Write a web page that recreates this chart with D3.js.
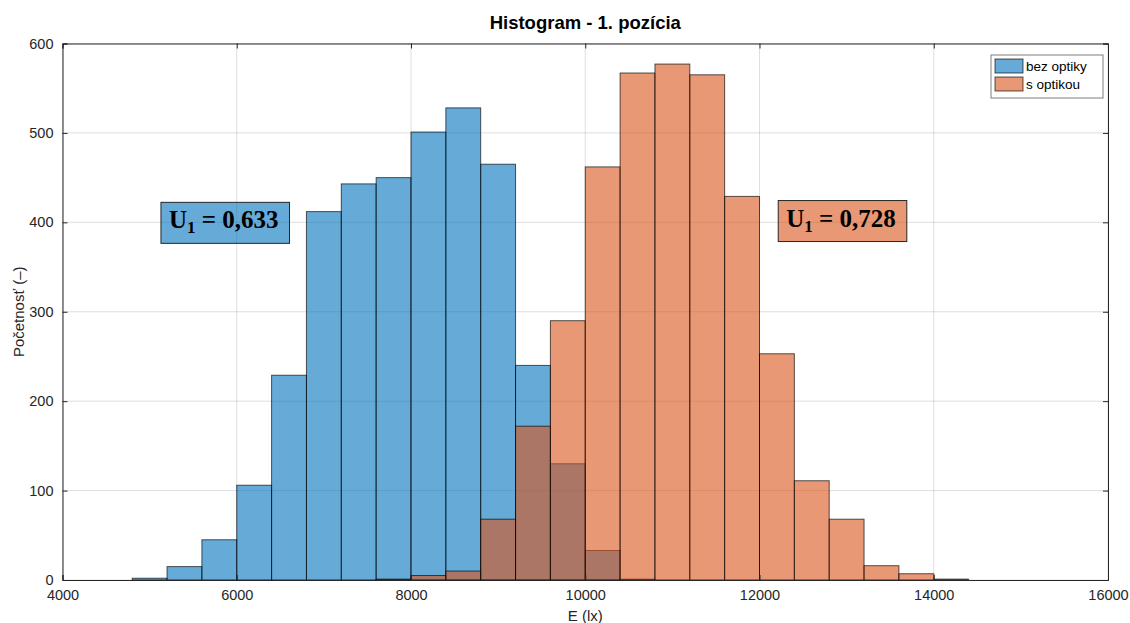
<!DOCTYPE html>
<html>
<head>
<meta charset="utf-8">
<script src="https://cdnjs.cloudflare.com/ajax/libs/d3/7.8.5/d3.min.js"></script>
<style>
  body { margin: 0; background: #fff; }
  text { font-family: "Liberation Sans", Arial, sans-serif; }
</style>
</head>
<body>
<div id="chart"></div>
<script>
// bin edges (lx), width 400
var binStart = 4800, binWidth = 400;
// counts per bin, starting at binStart
var bezOptiky = [2, 15, 45, 106, 229, 412, 443, 450, 501, 528, 465, 240, 130, 33, 1];
var sOptikouStart = 7600;
var sOptikou = [1, 5, 10, 68, 172, 290, 462, 567, 577, 565, 429, 253, 111, 68, 16, 7, 1];
var seriesNames = ["bez optiky", "s optikou"];
var xTicks = [4000, 6000, 8000, 10000, 12000, 14000, 16000];
var yTicks = [0, 100, 200, 300, 400, 500, 600];
var notes = [
    { x: 5130, y: 400, value: "0,633", series: 0 },
    { x: 12215, y: 402, value: "0,728", series: 1 }
];

var W = 1130, H = 623,
    margin = { left: 62.5, top: 43.5, right: 22, bottom: 43 },
    colors = ["#0072bd", "#d95319"];

var svg = d3.select("#chart").append("svg")
    .attr("width", W)
    .attr("height", H);

var x = d3.scaleLinear().domain([4000, 16000]).range([margin.left, W - margin.right]);
var y = d3.scaleLinear().domain([0, 600]).range([H - margin.bottom, margin.top]);

var toBins = function (start, counts) {
    return counts.map(function (c, i) {
        return { x0: start + i * binWidth, x1: start + (i + 1) * binWidth, n: c };
    });
};

// grid
var grid = svg.append("g");
grid.selectAll("line.gx").data(xTicks).enter().append("line")
    .attr("x1", function (d) { return x(d); }).attr("x2", function (d) { return x(d); })
    .attr("y1", y(0)).attr("y2", y(600))
    .attr("stroke", "#262626").attr("stroke-opacity", 0.15);
grid.selectAll("line.gy").data(yTicks).enter().append("line")
    .attr("y1", function (d) { return y(d); }).attr("y2", function (d) { return y(d); })
    .attr("x1", x(4000)).attr("x2", x(16000))
    .attr("stroke", "#262626").attr("stroke-opacity", 0.15);

// bars
[toBins(binStart, bezOptiky), toBins(sOptikouStart, sOptikou)].forEach(function (bins, k) {
    svg.append("g").selectAll("rect").data(bins).enter().append("rect")
        .attr("x", function (d) { return x(d.x0); })
        .attr("width", function (d) { return x(d.x1) - x(d.x0); })
        .attr("y", function (d) { return y(d.n); })
        .attr("height", function (d) { return y(0) - y(d.n); })
        .attr("fill", colors[k]).attr("fill-opacity", 0.6)
        .attr("stroke", "#000").attr("stroke-opacity", 0.65).attr("stroke-width", 1);
});

// axes
svg.append("g").attr("transform", "translate(0," + y(0) + ")")
    .call(d3.axisBottom(x).tickValues(xTicks).tickSize(-5).tickPadding(10).tickFormat(d3.format("d")));
svg.append("g").attr("transform", "translate(" + x(4000) + ",0)")
    .call(d3.axisLeft(y).tickValues(yTicks).tickSize(-5).tickPadding(9));
svg.append("g").attr("transform", "translate(0," + y(600) + ")")
    .call(d3.axisTop(x).tickValues(xTicks).tickSize(-5).tickFormat(""));
svg.append("g").attr("transform", "translate(" + x(16000) + ",0)")
    .call(d3.axisRight(y).tickValues(yTicks).tickSize(-5).tickFormat(""));
svg.selectAll(".domain, .tick line").attr("stroke", "#262626");
svg.selectAll(".tick text").attr("fill", "#262626").style("font-size", "14.5px")
    .style("font-family", "'Liberation Sans', Arial, sans-serif");

// titles
svg.append("text").attr("x", (x(4000) + x(16000)) / 2).attr("y", 29)
    .attr("text-anchor", "middle").style("font-size", "18.5px").style("font-weight", "bold")
    .attr("fill", "#000").text("Histogram - 1. pozícia");
svg.append("text").attr("x", (x(4000) + x(16000)) / 2).attr("y", 621)
    .attr("text-anchor", "middle").style("font-size", "15px").attr("fill", "#262626").text("E (lx)");
svg.append("text").attr("transform", "translate(24," + (y(300)) + ") rotate(-90)")
    .attr("text-anchor", "middle").style("font-size", "15px").attr("fill", "#262626").text("Početnosť (–)");

// legend
var lg = svg.append("g").attr("transform", "translate(991,55)");
lg.append("rect").attr("width", 112).attr("height", 43).attr("fill", "#fff").attr("stroke", "#262626").attr("stroke-opacity", 0.6);
seriesNames.forEach(function (name, i) {
    lg.append("rect").attr("x", 4).attr("y", 4 + i * 18).attr("width", 28).attr("height", 14)
        .attr("fill", colors[i]).attr("fill-opacity", 0.6).attr("stroke", "#000").attr("stroke-opacity", 0.65);
    lg.append("text").attr("x", 35).attr("y", 16 + i * 18).style("font-size", "13.5px").attr("fill", "#000").text(name);
});

// annotations
notes.forEach(function (n) {
    var g = svg.append("g").attr("transform", "translate(" + x(n.x) + "," + y(n.y) + ")");
    var bg = g.append("rect").attr("fill", colors[n.series]).attr("fill-opacity", 0.6)
        .attr("stroke", "#262626").attr("stroke-width", 1);
    var t = g.append("text").attr("x", 8).attr("y", 0)
        .attr("dominant-baseline", "middle")
        .style("font-family", "'Liberation Serif', 'Times New Roman', serif")
        .style("font-weight", "bold").style("font-size", "25px").attr("fill", "#000");
    t.append("tspan").text("U");
    t.append("tspan").attr("dy", 7).style("font-size", "17px").text("1");
    t.append("tspan").attr("dy", -7).text(" = " + n.value);
    var bb = t.node().getBBox();
    bg.attr("x", 0).attr("y", -20).attr("width", bb.width + 19).attr("height", 41);
});
</script>
</body>
</html>
